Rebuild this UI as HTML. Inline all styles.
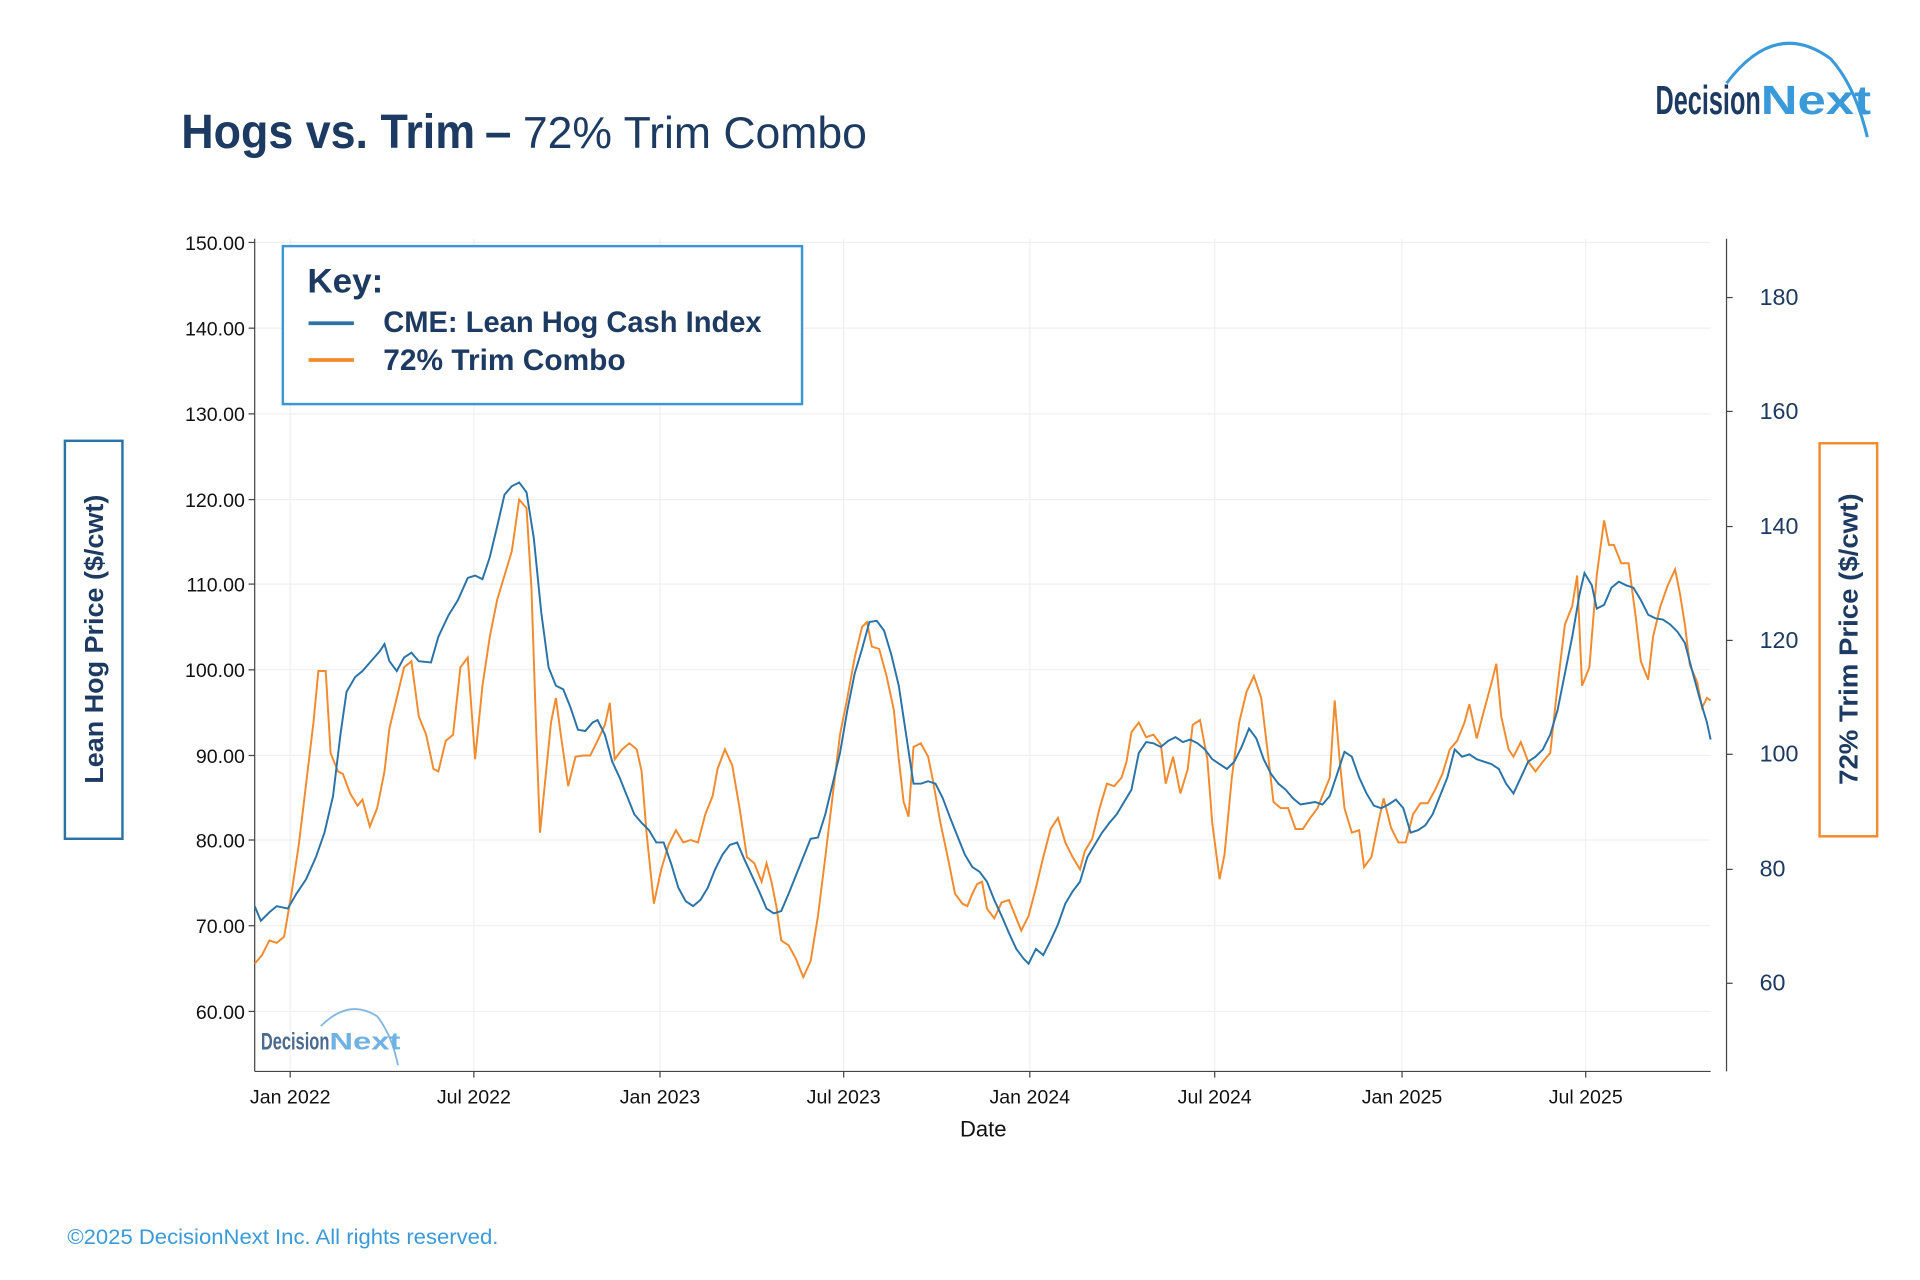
<!DOCTYPE html>
<html><head><meta charset="utf-8"><style>
html,body{margin:0;padding:0;background:#fff;}
svg{display:block;}
text{font-family:"Liberation Sans",sans-serif;}
</style></head><body>
<svg width="1920" height="1280" viewBox="0 0 1568 1045.33" xmlns="http://www.w3.org/2000/svg">
<rect x="0" y="0" width="1568" height="1046" fill="#fff"/>
<!-- title -->
<text x="148" y="121" font-size="39" font-weight="bold" fill="#1d3a62" textLength="240" lengthAdjust="spacingAndGlyphs">Hogs vs. Trim</text>
<text x="396" y="121" font-size="39" font-weight="bold" fill="#1d3a62">–</text>
<text x="427" y="121" font-size="36" fill="#1d3a62" textLength="281" lengthAdjust="spacingAndGlyphs">72% Trim Combo</text>
<!-- logo -->
<path d="M1410 68 Q1450 15 1495 48 Q1515 70 1525 112" fill="none" stroke="#3a9ad9" stroke-width="2.5"/>
<text x="1352" y="93" font-size="33" font-weight="bold" fill="#1d3a62" textLength="86" lengthAdjust="spacingAndGlyphs">Decision</text>
<text x="1438" y="93" font-size="33" font-weight="bold" fill="#3a9ad9" textLength="90" lengthAdjust="spacingAndGlyphs">Next</text>
<!-- grid -->
<g stroke="#f0f0f0" stroke-width="1">
<line x1="208" y1="198" x2="1397" y2="198"/><line x1="208" y1="268" x2="1397" y2="268"/><line x1="208" y1="338" x2="1397" y2="338"/><line x1="208" y1="408" x2="1397" y2="408"/><line x1="208" y1="477" x2="1397" y2="477"/><line x1="208" y1="547" x2="1397" y2="547"/><line x1="208" y1="617" x2="1397" y2="617"/><line x1="208" y1="686" x2="1397" y2="686"/><line x1="208" y1="756" x2="1397" y2="756"/><line x1="208" y1="826" x2="1397" y2="826"/>
<line x1="237" y1="195" x2="237" y2="875"/><line x1="387" y1="195" x2="387" y2="875"/><line x1="539" y1="195" x2="539" y2="875"/><line x1="689" y1="195" x2="689" y2="875"/><line x1="841" y1="195" x2="841" y2="875"/><line x1="992" y1="195" x2="992" y2="875"/><line x1="1145" y1="195" x2="1145" y2="875"/><line x1="1295" y1="195" x2="1295" y2="875"/>
</g>
<!-- axes -->
<g stroke="#444" stroke-width="1">
<line x1="208" y1="195" x2="208" y2="875"/><line x1="208" y1="875" x2="1397" y2="875"/><line x1="1410" y1="195" x2="1410" y2="875"/>
<line x1="203" y1="198" x2="208" y2="198"/><line x1="203" y1="268" x2="208" y2="268"/><line x1="203" y1="338" x2="208" y2="338"/><line x1="203" y1="408" x2="208" y2="408"/><line x1="203" y1="477" x2="208" y2="477"/><line x1="203" y1="547" x2="208" y2="547"/><line x1="203" y1="617" x2="208" y2="617"/><line x1="203" y1="686" x2="208" y2="686"/><line x1="203" y1="756" x2="208" y2="756"/><line x1="203" y1="826" x2="208" y2="826"/>
<line x1="237" y1="875" x2="237" y2="880"/><line x1="387" y1="875" x2="387" y2="880"/><line x1="539" y1="875" x2="539" y2="880"/><line x1="689" y1="875" x2="689" y2="880"/><line x1="841" y1="875" x2="841" y2="880"/><line x1="992" y1="875" x2="992" y2="880"/><line x1="1145" y1="875" x2="1145" y2="880"/><line x1="1295" y1="875" x2="1295" y2="880"/>
<line x1="1410" y1="243" x2="1415" y2="243"/><line x1="1410" y1="336" x2="1415" y2="336"/><line x1="1410" y1="430" x2="1415" y2="430"/><line x1="1410" y1="523" x2="1415" y2="523"/><line x1="1410" y1="616" x2="1415" y2="616"/><line x1="1410" y1="710" x2="1415" y2="710"/><line x1="1410" y1="803" x2="1415" y2="803"/>
</g>
<g font-size="16" fill="#111" text-anchor="end">
<text x="200" y="204">150.00</text><text x="200" y="274">140.00</text><text x="200" y="344">130.00</text><text x="200" y="414">120.00</text><text x="200" y="483">110.00</text><text x="200" y="553">100.00</text><text x="200" y="623">90.00</text><text x="200" y="692">80.00</text><text x="200" y="762">70.00</text><text x="200" y="832">60.00</text>
</g>
<g font-size="19" fill="#1d3a62">
<text x="1437" y="249">180</text><text x="1437" y="342">160</text><text x="1437" y="436">140</text><text x="1437" y="529">120</text><text x="1437" y="622">100</text><text x="1437" y="716">80</text><text x="1437" y="809">60</text>
</g>
<g font-size="16" fill="#111" text-anchor="middle">
<text x="237" y="901">Jan 2022</text><text x="387" y="901">Jul 2022</text><text x="539" y="901">Jan 2023</text><text x="689" y="901">Jul 2023</text><text x="841" y="901">Jan 2024</text><text x="992" y="901">Jul 2024</text><text x="1145" y="901">Jan 2025</text><text x="1295" y="901">Jul 2025</text>
<text x="803" y="928" font-size="18">Date</text>
</g>
<!-- series -->
<polyline fill="none" stroke="#f28a2e" stroke-width="1.6" points="208,787 214,780 220,768 226,770 232,765 238,730 244,690 250,640 256,590 260,548 266,548 270,615 276,630 280,632 286,648 292,658 296,653 302,675 308,660 314,630 318,595 324,570 330,545 336,540 342,585 348,600 354,628 358,630 364,605 370,600 376,545 382,537 388,620 394,560 400,520 406,490 412,470 418,450 424,408 430,415 434,480 438,600 441,680 445,640 450,590 454,570 458,600 464,642 470,618 476,617 482,617 488,605 494,592 498,574 502,620 508,612 514,607 520,612 524,630 528,680 534,738 540,710 546,690 552,678 558,688 564,686 570,688 576,665 582,650 586,628 592,612 598,625 604,660 610,700 616,705 622,720 626,705 630,720 634,740 638,768 644,772 650,783 656,798 662,785 668,748 674,700 680,650 686,600 692,570 698,537 704,512 708,508 712,528 718,530 724,552 730,580 734,620 738,655 742,667 746,610 752,607 758,618 762,638 768,672 774,700 780,730 786,738 790,740 794,730 798,722 802,720 806,742 812,750 818,737 824,735 828,745 834,760 840,748 846,725 852,700 858,677 864,668 870,688 876,700 882,710 886,695 892,685 898,660 904,640 910,642 916,635 920,622 924,598 930,590 936,602 942,600 948,608 952,640 958,618 964,648 970,628 974,592 980,588 986,620 990,672 996,718 1000,698 1006,635 1012,590 1018,565 1024,552 1030,570 1036,620 1040,655 1046,660 1052,660 1058,677 1064,677 1070,668 1076,660 1082,645 1086,635 1090,572 1094,620 1098,660 1104,680 1110,678 1114,708 1120,700 1126,670 1130,652 1136,676 1142,688 1148,688 1154,665 1160,656 1166,656 1172,645 1178,632 1184,612 1190,605 1196,590 1200,575 1206,603 1212,580 1218,558 1222,542 1226,585 1232,612 1236,618 1242,606 1248,622 1254,630 1260,622 1266,615 1272,560 1278,510 1284,495 1288,470 1292,560 1298,545 1304,470 1310,425 1314,445 1318,445 1324,460 1330,460 1336,505 1340,540 1346,555 1350,520 1356,495 1362,478 1368,465 1372,485 1376,510 1380,543 1386,557 1390,578 1394,570 1397,572"/>
<polyline fill="none" stroke="#2a73a8" stroke-width="1.6" points="208,740 213,752 220,745 226,740 235,742 242,730 250,718 258,700 265,680 272,650 278,600 283,565 290,553 296,548 303,540 310,532 314,526 318,540 324,548 330,537 336,533 342,540 352,541 358,520 366,503 374,490 382,472 388,470 394,473 400,455 406,430 412,404 418,397 424,394 430,402 436,440 442,500 448,545 454,560 460,563 466,578 472,596 478,597 484,590 488,588 494,600 500,622 506,635 512,650 518,665 524,672 530,678 536,688 542,688 548,705 554,725 560,736 566,740 572,735 578,725 584,710 590,698 596,690 602,688 608,702 614,715 620,728 626,742 632,746 638,744 644,730 650,715 656,700 662,685 668,684 674,665 680,640 686,615 692,580 698,550 704,530 710,508 716,507 722,515 728,535 734,560 740,600 746,640 752,640 758,638 764,640 770,652 776,668 782,683 788,698 794,708 800,712 806,720 812,735 818,748 824,762 830,775 836,783 840,787 846,775 852,780 858,768 864,755 870,738 876,728 882,720 888,700 894,690 900,680 906,672 912,665 918,655 924,645 930,615 936,606 942,607 948,610 954,605 960,602 966,606 972,604 978,607 984,612 990,620 996,624 1002,628 1008,622 1014,610 1020,595 1026,603 1032,620 1038,632 1044,640 1050,645 1056,652 1062,657 1068,656 1074,655 1080,657 1086,650 1092,632 1098,614 1104,618 1110,635 1116,648 1122,658 1128,660 1134,657 1140,653 1146,660 1152,680 1158,678 1164,674 1170,665 1176,650 1182,635 1188,612 1194,618 1200,616 1206,620 1212,622 1218,624 1224,628 1230,640 1236,648 1242,635 1248,622 1254,618 1260,612 1266,600 1272,580 1278,550 1284,520 1290,485 1294,468 1300,478 1304,497 1310,494 1316,480 1322,475 1328,478 1334,480 1340,490 1346,502 1352,505 1358,506 1364,510 1370,516 1376,525 1382,548 1388,570 1394,590 1397,604"/>
<!-- key -->
<rect x="231" y="201" width="424" height="129" fill="#fff" stroke="#3b97d3" stroke-width="2"/>
<text x="251" y="239" font-size="28" font-weight="bold" fill="#1d3a62" textLength="62" lengthAdjust="spacingAndGlyphs">Key:</text>
<line x1="252" y1="264" x2="289" y2="264" stroke="#2a73a8" stroke-width="3"/>
<line x1="252" y1="294" x2="289" y2="294" stroke="#f28a2e" stroke-width="3"/>
<text x="313" y="271" font-size="24" font-weight="bold" fill="#1d3a62" textLength="309" lengthAdjust="spacingAndGlyphs">CME: Lean Hog Cash Index</text>
<text x="313" y="302" font-size="24" font-weight="bold" fill="#1d3a62" textLength="198" lengthAdjust="spacingAndGlyphs">72% Trim Combo</text>
<!-- axis title boxes -->
<rect x="53" y="360" width="47" height="325" fill="#fff" stroke="#2a73a8" stroke-width="2"/>
<text transform="translate(84,522) rotate(-90)" text-anchor="middle" font-size="21" font-weight="bold" fill="#1d3a62" textLength="236" lengthAdjust="spacingAndGlyphs">Lean Hog Price  ($/cwt)</text>
<rect x="1486" y="362" width="47" height="321" fill="#fff" stroke="#f28a2e" stroke-width="2"/>
<text transform="translate(1517,522) rotate(-90)" text-anchor="middle" font-size="21" font-weight="bold" fill="#1d3a62" textLength="238" lengthAdjust="spacingAndGlyphs">72% Trim Price  ($/cwt)</text>
<!-- watermark logo -->
<path d="M262 838 Q285 815 308 830 Q320 845 325 870" fill="none" stroke="#7fb8e0" stroke-width="1.5"/>
<text x="213" y="857" font-size="20" font-weight="bold" fill="#4a6a90" textLength="56" lengthAdjust="spacingAndGlyphs">Decision</text>
<text x="269" y="857" font-size="20" font-weight="bold" fill="#6fb2e3" textLength="58" lengthAdjust="spacingAndGlyphs">Next</text>
<!-- footer -->
<text x="55" y="1016" font-size="17" fill="#3a9ad9" textLength="352" lengthAdjust="spacingAndGlyphs">©2025 DecisionNext Inc. All rights reserved.</text>
</svg>
</body></html>
